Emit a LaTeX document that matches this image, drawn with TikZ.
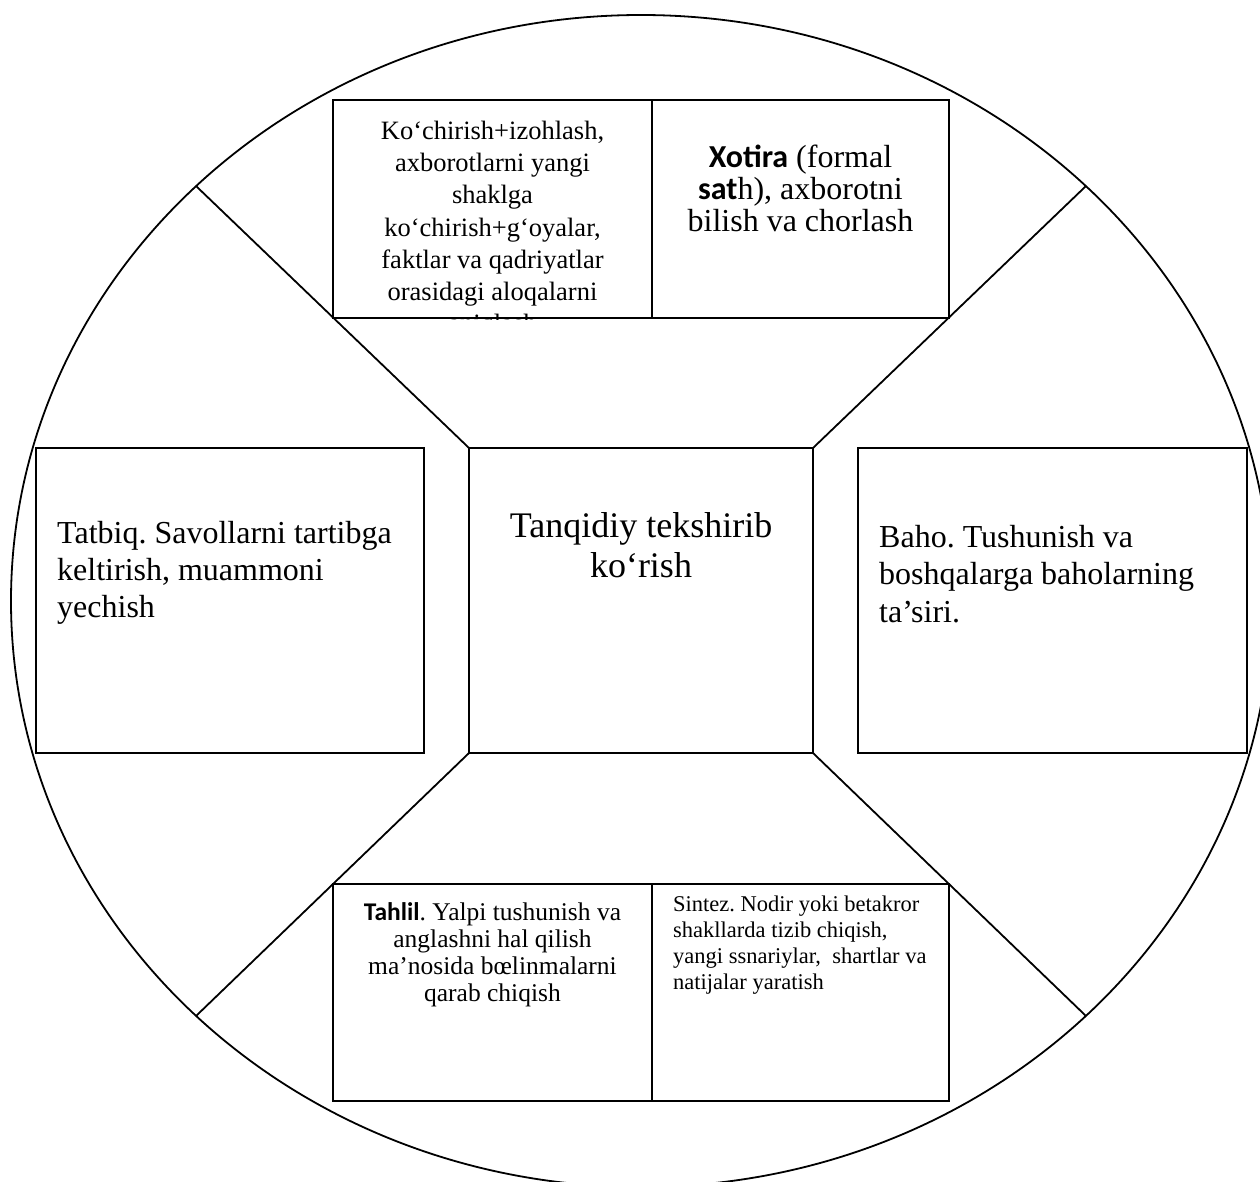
\documentclass[tikz,border=0pt]{standalone}
\usepackage{fontspec}
\setmainfont{Liberation Serif}
\newfontfamily\calfont{Carlito}
\usetikzlibrary{calc}
\tikzset{
  cellbox/.style={draw=black, fill=white, line width=2pt, inner sep=0pt, rectangle},
  spoke/.style={draw=black, line width=1.8pt},
  rim/.style={draw=black, line width=1.8pt},
  txt/.style={inner sep=0pt, text=black, execute at begin node=\frenchspacing}
}
\begin{document}
\begin{tikzpicture}[x=1pt,y=-1pt]
\useasboundingbox (0,0) rectangle (1260,1182);
\clip (0,0) rectangle (1260,1182);
% outer circle
\draw[rim] (641,601) ellipse [x radius=630, y radius=586];
% points on the circle
\coordinate (p1) at (196,186);
\coordinate (p2) at (1086,186);
\coordinate (p3) at (196,1016);
\coordinate (p4) at (1086,1016);
% boxes (positions only, drawn after the spokes)
\path (641,600.5) coordinate (cc);
\node[minimum width=344pt, minimum height=305pt, inner sep=0pt] (c) at (cc) {};
\draw[spoke] (p1) -- (c.north west);
\draw[spoke] (p2) -- (c.north east);
\draw[spoke] (p3) -- (c.south west);
\draw[spoke] (p4) -- (c.south east);
\node[cellbox, minimum width=344pt, minimum height=305pt] (center) at (cc) {};
\node[cellbox, minimum width=319pt, minimum height=218pt] (tl) at (492.5,209) {};
\node[cellbox, minimum width=297pt, minimum height=218pt] (tr) at (800.5,209) {};
\node[cellbox, minimum width=388pt, minimum height=305pt] (lf) at (230,600.5) {};
\node[cellbox, minimum width=389pt, minimum height=305pt] (rt) at (1052.5,600.5) {};
\node[cellbox, minimum width=319pt, minimum height=217pt] (bl) at (492.5,992.5) {};
\node[cellbox, minimum width=297pt, minimum height=217pt] (br) at (800.5,992.5) {};
% texts
\begin{scope}
\clip (tl.north west) rectangle (tl.south east);
\node[txt, anchor=north, align=center, font={\fontsize{26.5}{32.2}\selectfont}] (tltext) at (492.5,121)
 {Ko‘chirish+izohlash,\\axborotlarni yangi\\shaklga\\ko‘chirish+g‘oyalar,\\faktlar va qadriyatlar\\orasidagi aloqalarni\\aniqlash};
\end{scope}
\node[txt, anchor=north, align=center, font={\fontsize{32}{32}\selectfont}] (trtext) at (800.5,145)
 {{\calfont\bfseries Xotira} (formal\\{\calfont\bfseries sat}h), axborotni\\bilish va chorlash};
\node[txt, anchor=north, align=center, font={\fontsize{36}{40}\selectfont}] (ctext) at (641,512)
 {Tanqidiy tekshirib\\ko‘rish};
\node[txt, anchor=north west, align=left, font={\fontsize{32}{37}\selectfont}] (ltext) at (57,521)
 {Tatbiq. Savollarni tartibga\\keltirish, muammoni\\yechish};
\node[txt, anchor=north west, align=left, font={\fontsize{32}{37.5}\selectfont}] (rtext) at (879,525)
 {Baho. Tushunish va\\boshqalarga baholarning\\ta’siri.};
\node[txt, anchor=north, align=center, font={\fontsize{25.5}{27}\selectfont}] (bltext) at (492.5,902)
 {{\calfont\bfseries Tahlil}. Yalpi tushunish va\\anglashni hal qilish\\ma’nosida bœlinmalarni\\qarab chiqish};
\node[txt, anchor=north west, align=left, font={\fontsize{22.5}{26}\selectfont}] (brtext) at (673,896)
 {Sintez. Nodir yoki betakror\\shakllarda tizib chiqish,\\yangi ssnariylar,\ \ shartlar va\\natijalar yaratish};
\end{tikzpicture}
\end{document}
